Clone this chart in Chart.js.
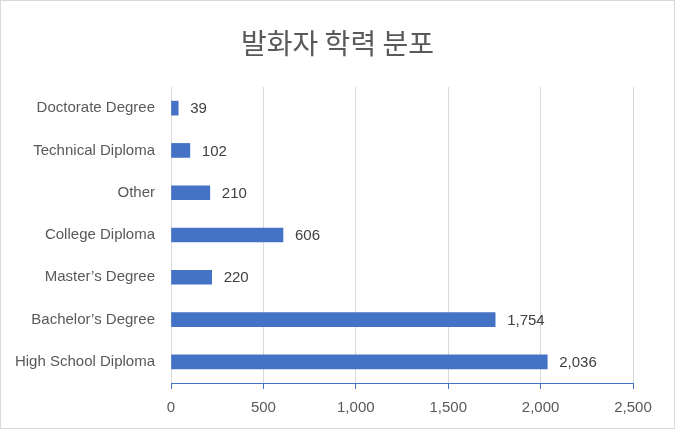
<!DOCTYPE html>
<html>
<head>
<meta charset="utf-8">
<script src="https://cdn.jsdelivr.net/npm/chart.js@4"></script>
<style>
  html, body { margin: 0; padding: 0; background: #fff; }
  #wrap { position: relative; width: 675px; height: 429px; box-sizing: border-box; border: 1px solid #d9d9d9; }
  canvas { position: absolute; left: -1px; top: -1px; }
</style>
</head>
<body>
<div id="wrap"><canvas id="eduChart" width="675" height="429"></canvas></div>
<script>
// 발화자 학력 분포 데이터
const chartTitle = '발화자 학력 분포';
const categories = ['Doctorate Degree', 'Technical Diploma', 'Other', 'College Diploma', 'Master’s Degree', 'Bachelor’s Degree', 'High School Diploma'];
const counts = [39, 102, 210, 606, 220, 1754, 2036];
const xTicks = [0, 500, 1000, 1500, 2000, 2500];

const textColor = '#595959';
const labelFont = { family: 'Liberation Sans, Arial, sans-serif', size: 15 };

// 제목은 캔버스 가운데에 직접 그림
const centeredTitle = {
    id: 'centeredTitle',
    afterDraw(chart) {
        const ctx = chart.ctx;
        ctx.save();
        ctx.font = '28px "Noto Sans CJK KR"';
        ctx.fillStyle = textColor;
        ctx.textAlign = 'center';
        ctx.textBaseline = 'middle';
        ctx.fillText(chartTitle, chart.width / 2, 43);
        ctx.restore();
    }
};

// 막대 끝에 값 표시
const valueLabels = {
    id: 'valueLabels',
    afterDatasetsDraw(chart) {
        const ctx = chart.ctx;
        const meta = chart.getDatasetMeta(0);
        ctx.save();
        ctx.font = '15px Liberation Sans, Arial, sans-serif';
        ctx.fillStyle = '#404040';
        ctx.textAlign = 'left';
        ctx.textBaseline = 'middle';
        meta.data.forEach((bar, i) => {
            ctx.fillText(counts[i].toLocaleString('en-US'), bar.x + 12, bar.y + 1);
        });
        ctx.restore();
    }
};

const ctx = document.getElementById('eduChart').getContext('2d');
const eduChart = new Chart(ctx, {
    type: 'bar',
    data: {
        labels: categories,
        datasets: [{
            data: counts,
            backgroundColor: '#4472C4',
            borderWidth: 0,
            barThickness: 14
        }]
    },
    options: {
        indexAxis: 'y',
        responsive: false,
        animation: false,
        layout: { padding: { left: 0, right: 42, top: 87, bottom: 0 } },
        plugins: {
            legend: { display: false },
            tooltip: { enabled: false },
            title: { display: false }
        },
        scales: {
            x: {
                min: 0,
                max: 2500,
                afterBuildTicks(scale) {
                    scale.ticks = xTicks.map(v => ({ value: v }));
                },
                afterFit(scale) { scale.height = 46; },
                grid: { color: '#d9d9d9', tickColor: '#4472C4', tickLength: 6 },
                border: { display: true, color: '#4472C4', width: 1 },
                ticks: {
                    color: textColor,
                    font: labelFont,
                    padding: 10,
                    callback: v => v.toLocaleString('en-US')
                }
            },
            y: {
                afterFit(scale) { scale.width = 171; },
                grid: { display: false, drawTicks: false },
                border: { display: false },
                ticks: { color: textColor, font: labelFont, padding: 16 }
            }
        }
    },
    plugins: [valueLabels, centeredTitle]
});
</script>
</body>
</html>
